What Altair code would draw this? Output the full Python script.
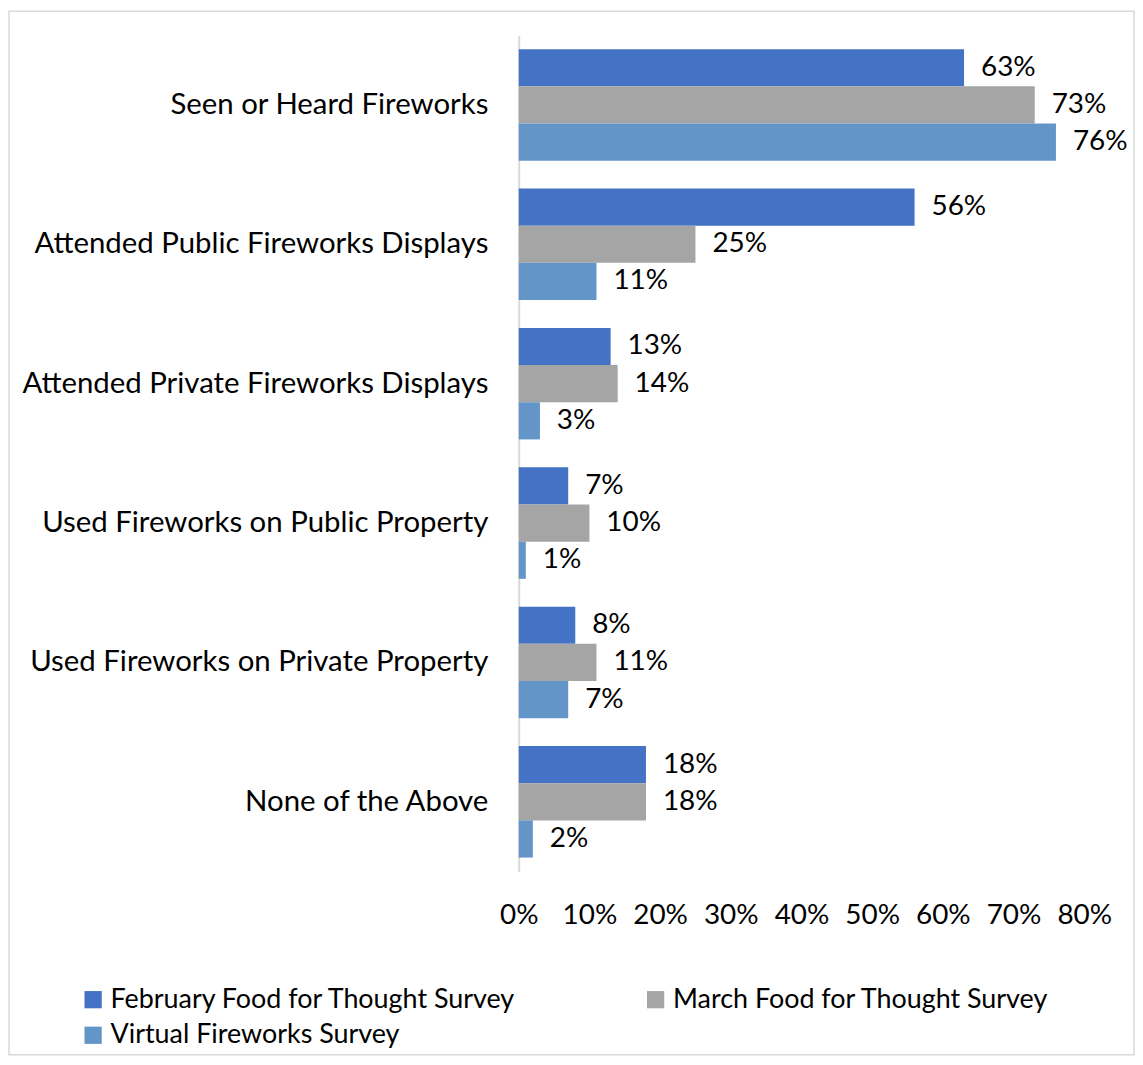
import altair as alt
import pandas as pd

categories = [
    "Seen or Heard Fireworks",
    "Attended Public Fireworks Displays",
    "Attended Private Fireworks Displays",
    "Used Fireworks on Public Property",
    "Used Fireworks on Private Property",
    "None of the Above",
]
series = [
    "February Food for Thought Survey",
    "March Food for Thought Survey",
    "Virtual Fireworks Survey",
]
feb = [63, 56, 13, 7, 8, 18]
mar = [73, 25, 14, 10, 11, 18]
virtual = [76, 11, 3, 1, 7, 2]
colors = ["#4472C4", "#A5A5A5", "#6495C8"]

rows = []
for s, vals in zip(series, [feb, mar, virtual]):
    for c, v in zip(categories, vals):
        rows.append({"category": c, "series": s, "value": v / 100, "label": f"{v}%"})
df = pd.DataFrame(rows)

FONT = "Lato"

y_enc = alt.Y(
    "category:N",
    sort=categories,
    title=None,
    scale=alt.Scale(paddingInner=0.2, paddingOuter=0.1),
    axis=alt.Axis(
        domainColor="#D9D9D9", domainWidth=2, ticks=False,
        labelPadding=31, labelFontSize=29.5, labelFont=FONT, labelColor="#000000",
        labelLimit=600,
    ),
)
yoff = alt.YOffset("series:N", sort=series)

base = alt.Chart(df)

bars = base.mark_bar().encode(
    x=alt.X(
        "value:Q",
        title=None,
        scale=alt.Scale(domain=[0, 0.8], nice=False),
        axis=alt.Axis(
            format=".0%", values=[0, 0.1, 0.2, 0.3, 0.4, 0.5, 0.6, 0.7, 0.8],
            domain=False, ticks=False, grid=False, labelPadding=30,
            labelFontSize=28, labelFont=FONT, labelColor="#000000",
            labelFlush=False,
        ),
    ),
    y=y_enc,
    yOffset=yoff,
    color=alt.Color(
        "series:N",
        sort=series,
        scale=alt.Scale(domain=series, range=colors),
        legend=alt.Legend(
            title=None, orient="none", legendX=-441, legendY=955,
            columns=2, direction="horizontal", symbolType="square", symbolSize=300,
            symbolStrokeWidth=0, labelFontSize=27, labelFont=FONT,
            labelColor="#000000", columnPadding=126, rowPadding=8,
            labelLimit=600, labelOffset=4, symbolOffset=0,
        ),
    ),
)

labels = base.mark_text(align="left", baseline="middle", dx=17, fontSize=28, font=FONT, color="#000000").encode(
    x="value:Q",
    y=alt.Y("category:N", sort=categories),
    yOffset=yoff,
    text="label:N",
)

border = alt.Chart(alt.Data(values=[{}])).mark_rect(
    fill=None, stroke="#D9D9D9", strokeWidth=1.5
).encode(
    x=alt.value(-512), x2=alt.value(618), y=alt.value(-24), y2=alt.value(1024)
)

chart = alt.layer(border, bars, labels).properties(
    width=568, height=840,
    autosize=alt.AutoSizeParams(type="none"),
    padding={"left": 513, "top": 25, "right": 51, "bottom": 185},
).configure(font=FONT).configure_view(stroke="transparent", strokeWidth=0)

chart.save("out.html", embed_options={"renderer": "svg", "actions": False})
